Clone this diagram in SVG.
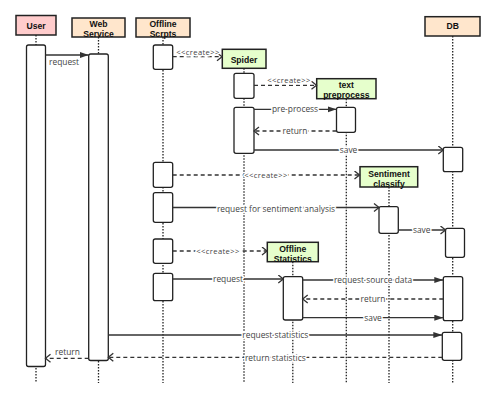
<svg xmlns="http://www.w3.org/2000/svg" width="496" height="400" viewBox="0 0 496 400">
<style>
.hd{stroke:#222;stroke-width:1.5}
.u{fill:#ffcccc}.o{fill:#ffe6cc}.g{fill:#e6ffcc}
.ht{font-family:"Liberation Sans",Arial,sans-serif;font-size:8.6px;font-weight:bold;fill:#111;text-anchor:middle}
.ll{stroke:#222;stroke-width:1.3;stroke-dasharray:1.5 1.5;fill:none}
.act{fill:#fff;stroke:#222;stroke-width:1.3}
.ln{stroke:#333;stroke-width:1.3;fill:none}
.ds{stroke-dasharray:4 3}
.fa{marker-end:url(#fill)}
.oa{marker-end:url(#open)}
.lb{font-family:"Open Sans","Noto Sans",sans-serif;font-size:8.4px;fill:#444;text-anchor:middle;stroke:#fff;stroke-width:3;paint-order:stroke;stroke-linejoin:round}
.lbn{font-family:"Open Sans","Noto Sans",sans-serif;font-size:8.4px;fill:#444}
.cr{font-size:7.6px;letter-spacing:0.4px}
</style>
<defs>
<marker id="fill" markerUnits="userSpaceOnUse" markerWidth="10" markerHeight="8" refX="9" refY="3" orient="auto">
<path d="M0,0 L9,3 L0,6 z" fill="#333"/>
</marker>
<marker id="open" markerUnits="userSpaceOnUse" markerWidth="8" markerHeight="10" refX="6" refY="4.5" orient="auto">
<path d="M1,0.5 L6,4.5 L1,8.5" fill="none" stroke="#333" stroke-width="1.3"/>
</marker>
</defs>

<g id="user">
<rect class="hd u" x="16" y="15.5" width="40" height="19.5"/>
<text class="ht" x="36" y="28.8">User</text>
<line class="ll" x1="36" y1="35" x2="36" y2="383"/>
<rect class="act" x="26.5" y="45" width="19" height="321.5" rx="2"/>
</g>

<g id="web">
<rect class="hd o" x="72" y="18" width="53" height="19"/>
<text class="ht" x="98.5" y="26.8">Web</text>
<text class="ht" x="98.5" y="36.8">Service</text>
<line class="ll" x1="98.5" y1="37" x2="98.5" y2="383"/>
<rect class="act" x="88.7" y="54" width="19.6" height="306.5" rx="2"/>
</g>

<g id="scripts">
<rect class="hd o" x="136" y="18" width="54" height="19"/>
<text class="ht" x="163" y="26.8">Offline</text>
<text class="ht" x="163" y="36.8">Scrpts</text>
<line class="ll" x1="163" y1="37" x2="163" y2="383"/>
<rect class="act" x="153.3" y="45" width="19.4" height="24.3" rx="2"/>
<rect class="act" x="153.3" y="162.3" width="19.4" height="25" rx="2"/>
<rect class="act" x="153.3" y="192.7" width="19.4" height="29.6" rx="2"/>
<rect class="act" x="153.3" y="239" width="19.4" height="24.3" rx="2"/>
<rect class="act" x="153.3" y="273.3" width="19.4" height="27.4" rx="2"/>
</g>

<g id="spider">
<rect class="hd g" x="222.3" y="49.3" width="43.7" height="19"/>
<text class="ht" x="244" y="62.5">Spider</text>
<line class="ll" x1="244" y1="68.3" x2="244" y2="383"/>
<rect class="act" x="234" y="73.3" width="20" height="25" rx="2"/>
<rect class="act" x="234" y="107.3" width="20" height="46" rx="2"/>
</g>

<g id="textpre">
<rect class="hd g" x="316.7" y="78.7" width="59.3" height="20"/>
<text class="ht" x="346.3" y="88">text</text>
<text class="ht" x="346.3" y="98">preprocess</text>
<line class="ll" x1="346.3" y1="98.7" x2="346.3" y2="383"/>
<rect class="act" x="336.5" y="107.3" width="19" height="25" rx="2"/>
</g>

<g id="sentiment">
<rect class="hd g" x="360" y="166.7" width="57.7" height="20.3"/>
<text class="ht" x="389" y="176.5">Sentiment</text>
<text class="ht" x="389" y="186.5">classify</text>
<line class="ll" x1="389" y1="187" x2="389" y2="383"/>
<rect class="act" x="379" y="206.7" width="19.3" height="26.6" rx="2"/>
</g>

<g id="stats">
<rect class="hd g" x="267.3" y="242.3" width="51" height="19.4"/>
<text class="ht" x="292.8" y="251.5">Offline</text>
<text class="ht" x="292.8" y="261.5">Statistics</text>
<line class="ll" x1="292.8" y1="261.7" x2="292.8" y2="383"/>
<rect class="act" x="283.3" y="276.7" width="19.4" height="43.3" rx="2"/>
</g>

<g id="db">
<rect class="hd o" x="425" y="16.7" width="55" height="19.3"/>
<text class="ht" x="452.7" y="29.3">DB</text>
<line class="ll" x1="452.7" y1="36" x2="452.7" y2="383"/>
<rect class="act" x="443.3" y="147.3" width="19.4" height="24.4" rx="2"/>
<rect class="act" x="445.5" y="228.3" width="19" height="29" rx="2"/>
<rect class="act" x="443.3" y="276.7" width="19.4" height="44" rx="2"/>
<rect class="act" x="442.3" y="332.3" width="19.4" height="28" rx="2"/>
</g>

<g id="connectors">
<line class="ln fa" x1="45.5" y1="55" x2="88.7" y2="55"/>
<text class="lbn" x="49" y="65">request</text>

<line class="ln ds oa" x1="172.7" y1="56.7" x2="222" y2="56.7"/>
<text class="lb cr" x="198" y="54.5">&lt;&lt;create&gt;&gt;</text>

<line class="ln ds oa" x1="254" y1="85.3" x2="316.5" y2="85.3"/>
<text class="lb cr" x="289" y="82.5">&lt;&lt;create&gt;&gt;</text>

<line class="ln fa" x1="254" y1="109.3" x2="336.5" y2="109.3"/>
<text class="lb" x="295" y="112.3">pre-process</text>

<line class="ln ds oa" x1="336.5" y1="131" x2="254" y2="131"/>
<text class="lb" x="295" y="134.3">return</text>

<line class="ln oa" x1="254" y1="150" x2="443.3" y2="150"/>
<text class="lb" x="348.5" y="153.3">save</text>

<line class="ln ds oa" x1="172.7" y1="175" x2="359.5" y2="175"/>
<text class="lb cr" x="266" y="177.8">&lt;&lt;create&gt;&gt;</text>

<line class="ln oa" x1="172.7" y1="207.5" x2="379" y2="207.5"/>
<text class="lb" x="276" y="211.5">request for sentiment analysis</text>

<line class="ln oa" x1="398.3" y1="230" x2="445.5" y2="230"/>
<text class="lb" x="421.7" y="233.3">save</text>

<line class="ln ds oa" x1="172.7" y1="251" x2="267" y2="251"/>
<text class="lb cr" x="218" y="253.8">&lt;&lt;create&gt;&gt;</text>

<line class="ln oa" x1="172.7" y1="279" x2="283.3" y2="279"/>
<text class="lb" x="228" y="282.3">request</text>

<line class="ln fa" x1="302.7" y1="280" x2="443.3" y2="280"/>
<text class="lb" x="373" y="283.3">request source data</text>

<line class="ln ds oa" x1="443.3" y1="299" x2="302.7" y2="299"/>
<text class="lb" x="373" y="302.3">return</text>

<line class="ln fa" x1="302.7" y1="317.7" x2="443.3" y2="317.7"/>
<text class="lb" x="373" y="321">save</text>

<line class="ln fa" x1="108.3" y1="335" x2="442.3" y2="335"/>
<text class="lb" x="275.3" y="338.3">request statistics</text>

<line class="ln ds oa" x1="442.3" y1="357.3" x2="108.3" y2="357.3"/>
<text class="lb" x="275.3" y="360.5">return statistics</text>

<line class="ln ds oa" x1="88.7" y1="358.3" x2="45.5" y2="358.3"/>
<text class="lbn" x="67.5" y="354.5" text-anchor="middle">return</text>
</g>
</svg>
